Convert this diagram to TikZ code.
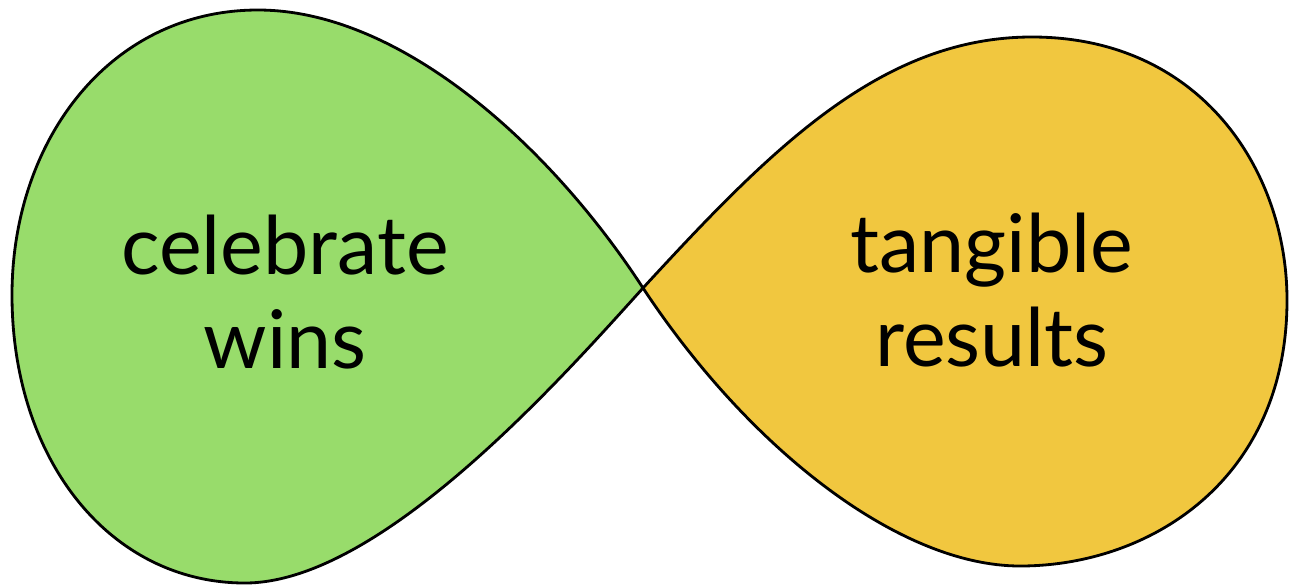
\documentclass[tikz,border=0pt]{standalone}
\usepackage{fontspec}
\setmainfont{Lato}
\definecolor{winsgreen}{HTML}{98DC6B}
\definecolor{resultyellow}{HTML}{F1C73F}
\tikzset{
    lobe/.style={draw=black, line width=1.6pt, line join=round},
    lobetext/.style={align=center, font=\fontsize{46}{53}\selectfont, text=black}
}
\begin{document}
\begin{tikzpicture}[x=0.02cm, y=-0.02cm]
    \useasboundingbox (0,0) rectangle (1291,586);

    \coordinate (cross) at (643,288);

    % left lobe
    \draw[lobe, fill=winsgreen] (cross)
        .. controls (550,145) and (400,10) .. (258,10)
        .. controls (110,10) and (12,140) .. (12,295)
        .. controls (12,460) and (110,583) .. (245,583)
        .. controls (380,583) and (560,380) .. (cross) -- cycle;

    % right lobe
    \draw[lobe, fill=resultyellow] (cross)
        .. controls (770,150) and (880,38) .. (1030,37)
        .. controls (1200,36) and (1287,170) .. (1287,300)
        .. controls (1287,480) and (1150,566) .. (1020,566)
        .. controls (900,566) and (750,450) .. (cross) -- cycle;

    \node[lobetext] (wins) at (285,292) {celebrate\\wins};
    \node[lobetext] (results) at (992,290) {tangible\\results};
\end{tikzpicture}
\end{document}
